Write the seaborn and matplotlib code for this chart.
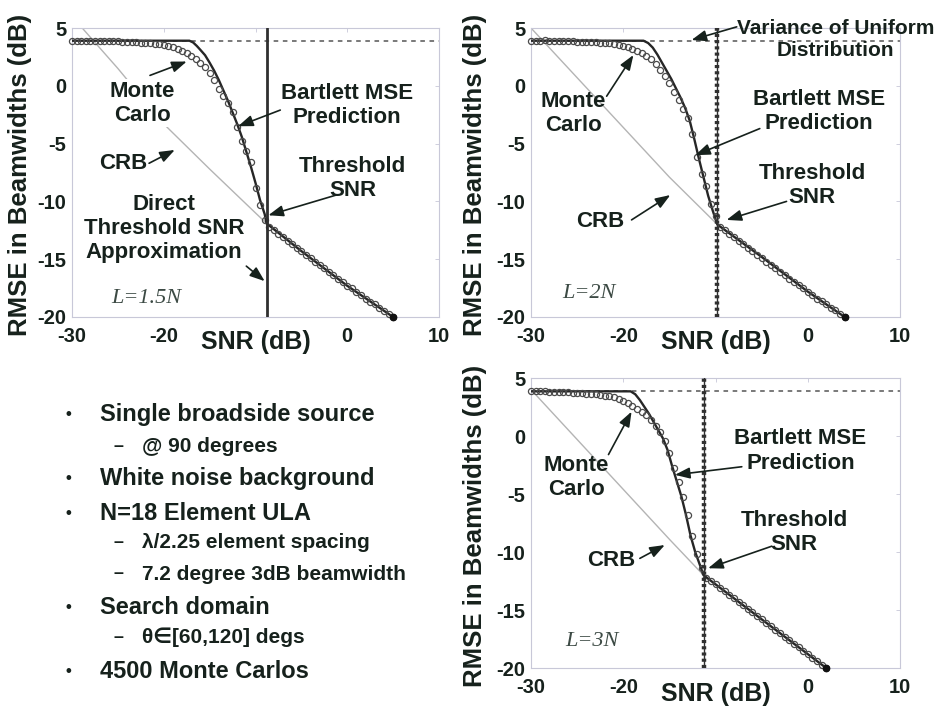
import numpy as np
import pandas as pd
import seaborn as sns
import matplotlib.pyplot as plt

# values (SNR in dB, RMSE in dB beamwidths)
var_level = 3.85          # variance of uniform distribution
x_ticks = [-30, -20, -10, 0, 10]
x_ticklabels = ['-30', '-20', '', '0', '10']
y_ticks = [-20, -15, -10, -5, 0, 5]

# --- L = 1.5N ---
mc1_snr = np.arange(-30, 5.01, 0.5)
mc1_rmse = [3.9, 3.9, 3.9, 3.9, 3.9, 3.9, 3.88, 3.87, 3.86, 3.85, 3.84, 3.82, 3.8, 3.78,
            3.76, 3.74, 3.72, 3.68, 3.64, 3.58, 3.52, 3.44, 3.35, 3.2, 3.05, 2.85, 2.6,
            2.3, 2.0, 1.6, 1.1, 0.5, -0.3, -0.9, -1.5, -2.3, -3.6, -4.8, -5.6, -6.6, -8.8,
            -10.3, -11.6,
            -12.2, -12.5, -12.8, -13.1, -13.4, -13.7, -14.0, -14.3, -14.6, -14.9, -15.2,
            -15.5, -15.8, -16.1, -16.4, -16.7, -17.0, -17.3, -17.5, -17.8, -18.1, -18.4,
            -18.7, -18.9, -19.2, -19.5, -19.7, -20.0]
bart1_snr = [-30, -17.2, -16.8, -16.4, -16.0, -15.5, -15.0, -14.5, -14.0, -13.5, -13.0, -12.5,
             -12.0, -11.5, -11.0, -10.5, -10.0, -9.5, -9.0, -8.8, -5.0, 0.0, 5.0]
bart1_rmse = [3.9, 3.9, 3.75, 3.45, 3.1, 2.65, 2.0, 1.3, 0.5, -0.4, -1.3, -2.3,
              -3.3, -4.4, -5.7, -7.0, -8.4, -9.9, -11.1, -11.9, -14.3, -17.3, -20.0]
crb1_snr = [-30, -25, -20, -15, -10, -8.8, -5, 0, 5]
crb1_rmse = [6.0, 1.5, -3.3, -7.2, -11.0, -11.9, -14.3, -17.3, -20.0]
thr1 = -8.8

# --- L = 2N ---
mc2_snr = np.arange(-30, 4.01, 0.5)
mc2_rmse = [3.9, 3.9, 3.9, 3.92, 3.9, 3.9, 3.88, 3.87, 3.85, 3.84, 3.83, 3.82, 3.8, 3.78,
            3.76, 3.73, 3.7, 3.66, 3.6, 3.53, 3.45, 3.33, 3.18, 3.0, 2.8, 2.6, 2.3, 1.9,
            1.4, 0.85, 0.2, -0.5, -1.2, -2.0, -2.8, -4.2, -6.2, -7.6, -8.7, -10.2, -11.3,
            -12.2, -12.5, -12.8, -13.1, -13.4, -13.7, -14.0, -14.3, -14.6, -14.9, -15.2,
            -15.5, -15.8, -16.1, -16.4, -16.7, -17.0, -17.2, -17.5, -17.8, -18.1, -18.4,
            -18.6, -18.9, -19.2, -19.4, -19.7, -20.0]
bart2_snr = [-30, -17.8, -17.3, -16.8, -16.3, -15.8, -15.3, -14.8, -14.3, -13.8, -13.3, -12.8,
             -12.3, -11.8, -11.3, -10.8, -10.3, -9.8, -5.0, 0.0, 4.0]
bart2_rmse = [3.9, 3.9, 3.7, 3.3, 2.7, 2.0, 1.3, 0.6, -0.2, -1.0, -1.9, -3.0,
              -4.6, -6.3, -7.9, -9.5, -10.8, -12.0, -14.8, -17.8, -20.0]
crb2_snr = [-30, -25, -20, -15, -9.8, -5, 0, 4]
crb2_rmse = [5.0, 0.7, -3.6, -7.9, -12.0, -14.8, -17.8, -20.0]
thr2 = -9.8

# --- L = 3N ---
mc3_snr = np.arange(-30, 2.01, 0.5)
mc3_rmse = [3.85, 3.85, 3.85, 3.84, 3.83, 3.82, 3.8, 3.78, 3.76, 3.74, 3.72, 3.69, 3.66,
            3.62, 3.58, 3.54, 3.48, 3.42, 3.33, 3.2, 3.05, 2.85, 2.6, 2.35, 2.1, 1.8, 1.4,
            0.9, 0.35, -0.4, -1.5, -2.8, -4.0, -5.3, -6.8, -8.6, -10.2, -11.4,
            -12.2, -12.5, -12.8, -13.1, -13.4, -13.7, -14.0, -14.3, -14.6, -14.9, -15.2,
            -15.5, -15.8, -16.1, -16.4, -16.7, -17.0, -17.3, -17.6, -17.9, -18.2, -18.5,
            -18.8, -19.1, -19.4, -19.7, -20.0]
bart3_snr = [-30, -19.2, -18.7, -18.2, -17.7, -17.2, -16.7, -16.2, -15.7, -15.2, -14.7, -14.2,
             -13.7, -13.2, -12.7, -12.2, -11.7, -11.3, -5.0, 0.0, 2.0]
bart3_rmse = [3.85, 3.85, 3.6, 3.1, 2.5, 1.9, 1.2, 0.5, -0.2, -1.2, -2.6, -3.9,
              -5.2, -6.8, -8.6, -10.0, -11.1, -12.0, -15.8, -18.8, -20.0]
crb3_snr = [-30, -25, -20, -15, -11.3, -5, 0, 2]
crb3_rmse = [4.0, -0.3, -4.6, -8.9, -12.0, -15.8, -18.8, -20.0]
thr3 = -11.3

panel_labels = ['L=1.5N', 'L=2N', 'L=3N']

# annotations: (text, text position, arrow tail, arrow head, font size, white box)
notes1 = [
    ('Monte\nCarlo', (-22.3, -1.5), (-21.5, 0.9), (-17.5, 2.1), 16, True),
    ('Bartlett MSE\nPrediction', (0.0, -1.7), (-7.3, -2.1), (-11.9, -3.5), 16, False),
    ('CRB', (-24.4, -6.7), (-21.6, -6.7), (-18.8, -5.55), 16, False),
    ('Threshold\nSNR', (0.6, -8.0), (-1.2, -9.45), (-8.6, -11.2), 16, False),
    ('Direct\nThreshold SNR\nApproximation', (-20.0, -12.35), (-11.0, -15.6), (-9.0, -16.9), 16, False),
]
notes2 = [
    ('Variance of Uniform\nDistribution', (3.0, 4.0), (-7.7, 5.1), (-12.6, 3.96), 15, False),
    ('Monte\nCarlo', (-25.4, -2.4), (-21.8, -0.9), (-18.9, 2.66), 16, False),
    ('Bartlett MSE\nPrediction', (1.2, -2.2), (-5.2, -3.7), (-12.2, -6.0), 16, False),
    ('Threshold\nSNR', (0.5, -8.6), (-2.3, -10.0), (-8.8, -11.6), 16, False),
    ('CRB', (-22.5, -11.75), (-19.1, -11.6), (-14.9, -9.45), 16, False),
]
notes3 = [
    ('Monte\nCarlo', (-25.1, -3.6), (-21.6, -1.6), (-19.1, 2.1), 16, False),
    ('Bartlett MSE\nPrediction', (-0.8, -1.3), (-7.15, -2.65), (-14.4, -3.35), 16, False),
    ('Threshold\nSNR', (-1.5, -8.3), (-3.9, -9.5), (-10.8, -11.4), 16, False),
    ('CRB', (-21.25, -10.7), (-18.2, -10.55), (-15.5, -9.4), 16, False),
]

bullets = [
    ('•', 'Single broadside source', 0),
    ('–', '@ 90 degrees', 1),
    ('•', 'White noise background', 0),
    ('•', 'N=18 Element ULA', 0),
    ('–', 'λ/2.25 element spacing', 1),
    ('–', '7.2 degree 3dB beamwidth', 1),
    ('•', 'Search domain', 0),
    ('–', 'θ∈[60,120] degs', 1),
    ('•', '4500 Monte Carlos', 0),
]
bullet_y = [415, 446.7, 478.3, 513.3, 542.7, 574, 607.3, 637.7, 671.7]

sns.set_theme(style='white')
plt.rcParams['font.family'] = ['Liberation Sans', 'DejaVu Sans']
plt.rcParams['font.weight'] = 'bold'
plt.rcParams['axes.unicode_minus'] = False
ink = '#16211c'

W, H = 938, 706
fig = plt.figure(figsize=(W / 100, H / 100), dpi=100)
fig.patch.set_facecolor('white')


def px_axes(l, r, t, b):
    return fig.add_axes([l / W, 1 - b / H, (r - l) / W, (b - t) / H])


panels = [
    (px_axes(72, 439, 28, 317), mc1_snr, mc1_rmse, bart1_snr, bart1_rmse, crb1_snr, crb1_rmse,
     thr1, notes1, (-25.7, -18.4), 'solid', -0.109, -0.045),
    (px_axes(531, 900, 28, 317), mc2_snr, mc2_rmse, bart2_snr, bart2_rmse, crb2_snr, crb2_rmse,
     thr2, notes2, (-26.6, -18.0), 'dotted', -0.119, -0.045),
    (px_axes(531, 900, 378, 668), mc3_snr, mc3_rmse, bart3_snr, bart3_rmse, crb3_snr, crb3_rmse,
     thr3, notes3, (-26.3, -17.7), 'dotted', -0.119, -0.047),
]

for i, (ax, mx, my, bx, by, cx, cy, thr, notes, lpos, vstyle, ylx, xly) in enumerate(panels):
    ax.set_facecolor('white')
    sns.lineplot(x=cx, y=cy, ax=ax, color='#b4b4b4', lw=1.0, zorder=1)
    ax.axhline(var_level, color='#555555', lw=1.1, ls=(0, (3, 3)), zorder=2)
    sns.lineplot(x=bx, y=by, ax=ax, color='#262626', lw=1.7, zorder=3)
    mc = pd.DataFrame({'snr': mx, 'rmse': my})
    sns.lineplot(data=mc, x='snr', y='rmse', ax=ax, linestyle='none', marker='o',
                 markersize=4.4, mfc='none', mec='#4a4a4a', mew=0.9, zorder=4, clip_on=False)
    ax.plot(mx[-1], my[-1], 'o', color='#111111', ms=4.5, zorder=5, clip_on=False)
    if vstyle == 'solid':
        ax.axvline(thr, color='#303030', lw=2.0, zorder=6)
    else:
        ax.axvline(thr, color='#303030', lw=1.0, zorder=6)
        ax.axvline(thr, color='#303030', lw=3.2, ls=(0, (0.7, 0.7)), zorder=6)

    ax.set_xlim(-30, 10)
    ax.set_ylim(-20, 5)
    ax.set_xticks(x_ticks)
    ax.set_xticklabels(x_ticklabels)
    ax.set_yticks(y_ticks)
    ax.tick_params(axis='both', which='both', direction='in', length=3, width=0.6,
                   color='#c8c8d8', top=True, right=True, labelsize=14.5, labelcolor=ink)
    ax.tick_params(axis='x', pad=7)
    ax.tick_params(axis='y', pad=4)
    for t in ax.get_xticklabels() + ax.get_yticklabels():
        t.set_fontweight('bold')
    for s in ax.spines.values():
        s.set_color('#c8c8d8')
        s.set_linewidth(0.8)

    ax.set_xlabel('SNR (dB)', fontsize=18, fontweight='bold', color=ink)
    ax.set_ylabel('RMSE in Beamwidths (dB)', fontsize=18.5, fontweight='bold', color=ink)
    ax.xaxis.set_label_coords(0.5, xly)
    ax.yaxis.set_label_coords(ylx, 0.49)

    ax.text(lpos[0], lpos[1], panel_labels[i], family='Liberation Serif', style='italic',
            fontweight='normal', fontsize=16, color='#3c4a44', ha='left', va='center')

    for txt, tpos, tail, head, fs, boxed in notes:
        box = dict(facecolor='white', edgecolor='none', pad=1) if boxed else None
        ax.text(tpos[0], tpos[1], txt, fontsize=fs, fontweight='bold', color=ink,
                ha='center', va='center', multialignment='center', linespacing=1.2,
                zorder=8, bbox=box)
        ax.annotate('', xy=head, xytext=tail, zorder=9,
                    arrowprops=dict(arrowstyle='-|>,head_length=0.75,head_width=0.28',
                                    mutation_scale=12, color=ink, lw=1.2,
                                    shrinkA=0, shrinkB=0))

for (mark, txt, level), yy in zip(bullets, bullet_y):
    if level == 0:
        fig.text(68 / W, 1 - yy / H, mark, fontsize=12, fontweight='bold', color=ink,
                 ha='center', va='center')
        fig.text(100 / W, 1 - yy / H, txt, fontsize=17, fontweight='bold', color=ink,
                 ha='left', va='center')
    else:
        fig.text(118 / W, 1 - yy / H, mark, fontsize=13, color=ink, ha='center', va='center')
        fig.text(142 / W, 1 - yy / H, txt, fontsize=15, fontweight='bold', color=ink,
                 ha='left', va='center')

fig.savefig('out.png', dpi=100, facecolor='white')
